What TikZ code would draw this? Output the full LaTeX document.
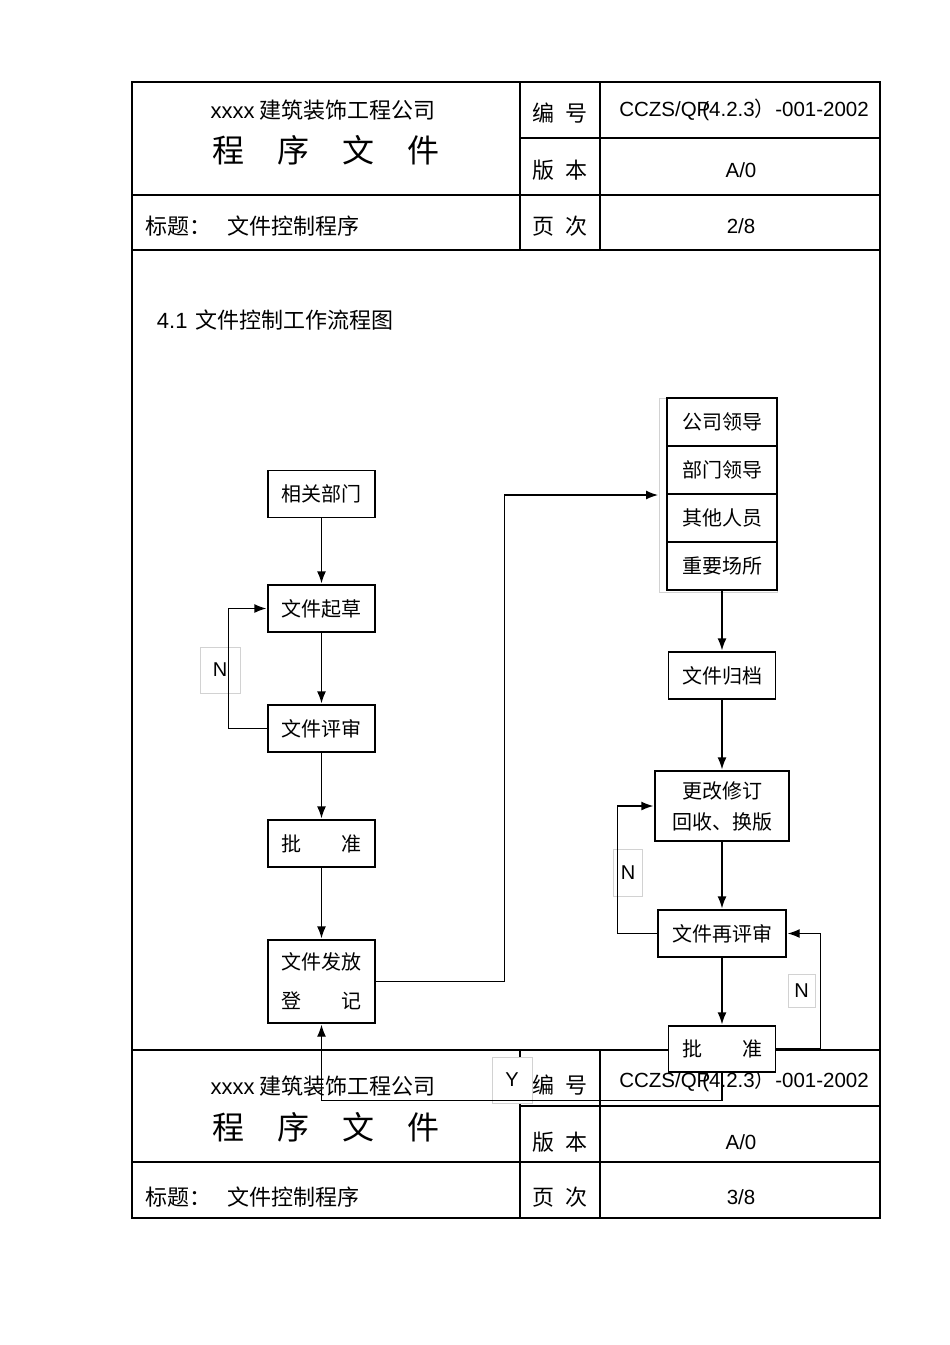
\documentclass[tikz,border=0pt]{standalone}
\usepackage{fontspec}
\setmainfont{Liberation Sans}
\newfontfamily\cjk{Noto Sans CJK SC}
\usepackage{tikz}
\usetikzlibrary{shapes, arrows.meta, positioning}

\begin{document}
\begin{tikzpicture}[x=1pt,y=-1pt,>={Latex[length=12pt,width=9pt]},shorten >=1pt,line width=1.3pt,
            box/.style={rectangle,draw,fill=white,minimum width=107pt,minimum height=47pt,
                inner sep=0pt,font=\cjk\fontsize{20}{24}\selectfont},
            stack/.style={box,minimum width=110pt,minimum height=48pt,outer sep=0pt},
            tag/.style={rectangle,draw=gray!35,line width=0.6pt,fill=white,inner sep=0pt,
                font=\fontsize{20}{24}\selectfont},
            head/.style={font=\cjk\fontsize{22}{26}\selectfont},
            big head/.style={font=\cjk\fontsize{32}{36}\selectfont},
            code/.style={font=\fontsize{20.5}{24}\selectfont}]

        \useasboundingbox (0,0) rectangle (950,1345);

        % page frame, two headers
        \draw[line width=2.4pt] (132,82) rectangle (880,1218);
        \draw (132,195) -- (880,195) (132,250) -- (880,250) (520,138) -- (880,138)
        (520,82) -- (520,250) (600,82) -- (600,250);
        \draw (132,1050) -- (880,1050) (132,1162) -- (880,1162) (520,1106) -- (880,1106)
        (520,1050) -- (520,1218) (600,1050) -- (600,1218);

        \node[head] (co1) at (323,110) {{\rmfamily xxxx} 建筑装饰工程公司};
        \node[big head] (doc1) at (326,150) {程\hspace{33pt}序\hspace{33pt}文\hspace{33pt}件};
        \node[head] (no1) at (560,113) {编\hspace{12pt}号};
        \node[head] (ver1) at (560,170) {版\hspace{12pt}本};
        \node[head] (pg1) at (560,226) {页\hspace{12pt}次};
        \node[head,anchor=west] (tt1) at (142,226) {标题：\hspace{16pt}文件控制程序};
        \node[code] (cd1) at (744,110) {CCZS/QP\kern-8pt(4.2.3{\cjk ）}-001-2002};
        \node[code] (a1) at (741,170) {A/0};
        \node[code] (p1) at (741,226) {2/8};

        \node[head] (co2) at (323,1086) {{\rmfamily xxxx} 建筑装饰工程公司};
        \node[big head] (doc2) at (326,1127) {程\hspace{33pt}序\hspace{33pt}文\hspace{33pt}件};
        \node[head] (no2) at (560,1085) {编\hspace{12pt}号};
        \node[head] (ver2) at (560,1142) {版\hspace{12pt}本};
        \node[head] (pg2) at (560,1197) {页\hspace{12pt}次};
        \node[head,anchor=west] (tt2) at (142,1197) {标题：\hspace{16pt}文件控制程序};
        \node[code] (cd2) at (744,1081) {CCZS/QP\kern-8pt(4.2.3{\cjk ）}-001-2002};
        \node[code] (a2) at (741,1142) {A/0};
        \node[code] (p2) at (741,1197) {3/8};

        \node[head,anchor=west] (sec) at (153,320) {{\rmfamily 4.1}\hspace{8pt}文件控制工作流程图};

        % N / Y marks
        \node[draw=gray!35,line width=0.6pt,minimum width=118pt,minimum height=194pt,
            inner sep=0pt,outer sep=0pt] (0) at (718,495) {};
        \node[tag,minimum width=40pt,minimum height=46pt] (n1) at (220,670) {N};
        \node[tag,minimum width=29pt,minimum height=47pt] (n2) at (628,872.5) {N};
        \node[tag,minimum width=27pt,minimum height=33pt] (n3) at (801.5,991) {N};
        \node[tag,minimum width=40pt,minimum height=46pt] (y) at (512,1080) {Y};

        \node[box] (1) at (321.5,494) {相关部门};
        \node[box] (2) at (321.5,608.5) {文件起草};
        \node[box] (3) at (321.5,728.5) {文件评审};
        \node[box] (4) at (321.5,843.5) {批\hspace{40pt}准};
        \node[box,minimum height=83pt,align=center,font=\cjk\fontsize{20}{39}\selectfont] (5)
            at (321.5,981.5) {文件发放\\登\hspace{40pt}记};

        \node[stack] (6) at (722,422) {公司领导};
        \node[stack,below=0pt of 6] (7) {部门领导};
        \node[stack,below=0pt of 7] (8) {其他人员};
        \node[stack,below=0pt of 8] (9) {重要场所};

        \node[box] (10) at (722,675.5) {文件归档};
        \node[box,minimum width=134pt,minimum height=70pt,align=center,
            font=\cjk\fontsize{20}{31}\selectfont] (11) at (722,806) {更改修订\\回收、换版};
        \node[box,minimum width=128pt] (12) at (722,933.5) {文件再评审};
        \node[box,minimum height=46pt] (13) at (722,1049) {批\hspace{40pt}准};

        \path[->] (1) edge (2)
        (2) edge (3)
        (3) edge (4)
        (4) edge (5)
        (9) edge (10)
        (10) edge (11)
        (11) edge (12)
        (12) edge (13);

        \draw[->] (3.west) -- ++(-39,0) |- (2.west);
        \draw[->] (5.east) -- ++(129,0) |- (0.west);
        \draw[->] (12.west) -- ++(-40,0) |- (11.west);
        \draw[->] (13.east) -- ++(44,0) |- (12.east);
        \draw[->] (13.south) -- ++(0,28) -| (5.south);
    \end{tikzpicture}
\end{document}
